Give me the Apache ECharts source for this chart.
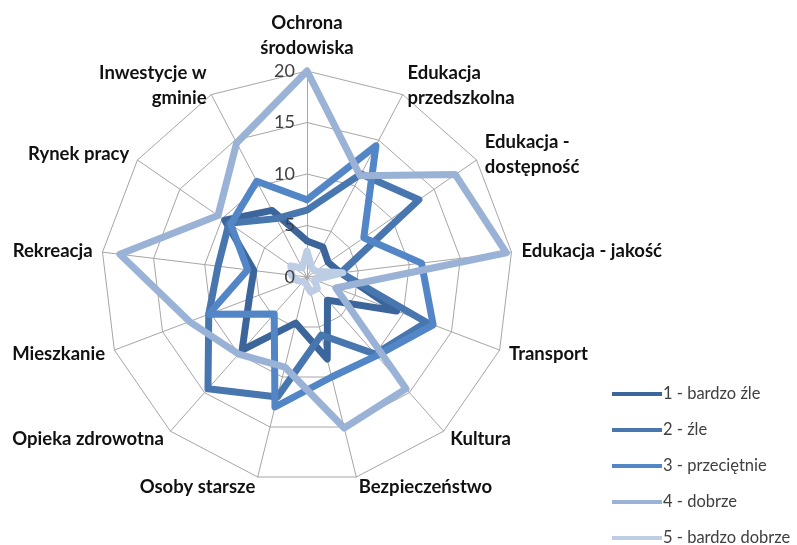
<!DOCTYPE html>
<html><head><meta charset="utf-8">
<script src="https://cdn.jsdelivr.net/npm/echarts@6/dist/echarts.min.js"></script>
<style>html,body{margin:0;padding:0;background:#fff}#c{width:797px;height:545px}</style>
</head><body><div id="c"></div>
<script>
// Categories (clockwise from top, as in the reference)
const categories = ['Ochrona\nśrodowiska','Edukacja\nprzedszkolna','Edukacja -\ndostępność','Edukacja - jakość','Transport','Kultura','Bezpieczeństwo','Osoby starsze','Opieka zdrowotna','Mieszkanie','Rekreacja','Rynek pracy','Inwestycje w\ngminie'];
const seriesNames = ['1 - bardzo źle','2 - źle','3 - przeciętnie','4 - dobrze','5 - bardzo dobrze'];
const s1 = [3.5, 3.3, 2.5, 3.3, 9.3, 3.0, 8.2, 4.6, 9.5, 6.0, 5.2, 9.7, 7.3];
const s2 = [6.5, 11.3, 13.2, 3.3, 12.4, 10.0, 5.8, 12.0, 14.5, 10.2, 8.7, 9.2, 6.4];
const s3 = [7.5, 14.4, 6.7, 11.2, 13.1, 10.2, 10.0, 13.0, 4.8, 10.2, 5.8, 9.0, 10.5];
const s4 = [20, 11.1, 17.5, 19.5, 3.0, 14.5, 15.1, 9.0, 10.0, 12.2, 18.3, 10.5, 14.7];
const s5 = [2.5, 1.0, 1.0, 3.5, 0.8, 1.5, 1.5, 0.6, 0.6, 1.0, 1.5, 1.9, 1.0];
const tickValues = [0, 5, 10, 15, 20];
const colors = ['#3B659B','#4876AE','#5286C6','#9AB2D6','#BCCDE4'];

// ECharts radar runs counter-clockwise; reorder to draw clockwise
function cw(arr){ return [arr[0]].concat(arr.slice(1).reverse()); }
const allSeries = [s1,s2,s3,s4,s5];
const maxV = tickValues[tickValues.length-1];

const chart = echarts.init(document.getElementById('c'), null, {renderer:'canvas'});
chart.setOption({
  animation:false,
  backgroundColor:'#fff',
  textStyle:{fontFamily:'Lato'},
  legend:{
    orient:'vertical', left:607, top:380, height:170,
    icon:'rect', itemWidth:50, itemHeight:4, itemGap:18,
    data: seriesNames,
    textStyle:{fontFamily:'Lato', fontSize:16.5, color:'#404040', lineHeight:18, padding:[0,0,0,-4]}
  },
  radar:{
    center:[307,277], radius:206, startAngle:90, splitNumber:4, shape:'polygon',
    indicator: cw(categories).map(n=>({name:n, min:0, max:maxV})),
    nameGap:10,
    axisName:{color:'#111', fontSize:18.5, fontWeight:'bold', fontFamily:'Lato', lineHeight:25},
    splitLine:{lineStyle:{color:'#A6A6A6', width:1}},
    splitArea:{show:false},
    axisLine:{lineStyle:{color:'#A6A6A6', width:1}},
    axisTick:{show:false}, axisLabel:{show:false}
  },
  polar:{center:[307,277], radius:206},
  angleAxis:{show:false, startAngle:90, min:0, max:360},
  radiusAxis:{min:0, max:maxV, interval:5, z:50, axisLine:{show:false}, axisTick:{show:false}, splitLine:{show:false},
    axisLabel:{show:true, fontFamily:'Lato', fontSize:18, color:'#404040', margin:12}},
  series: allSeries.map((arr,i)=>({
    type:'radar', name:seriesNames[i], symbol:'none', z:2+i,
    data:[{value:cw(arr), name:seriesNames[i]}],
    lineStyle:{color:colors[i], width:7, join:'round', cap:'round'},
    itemStyle:{color:colors[i]},
    areaStyle:null
  })).concat([{type:'scatter', coordinateSystem:'polar', data:[], silent:true}])
});
</script></body></html>
